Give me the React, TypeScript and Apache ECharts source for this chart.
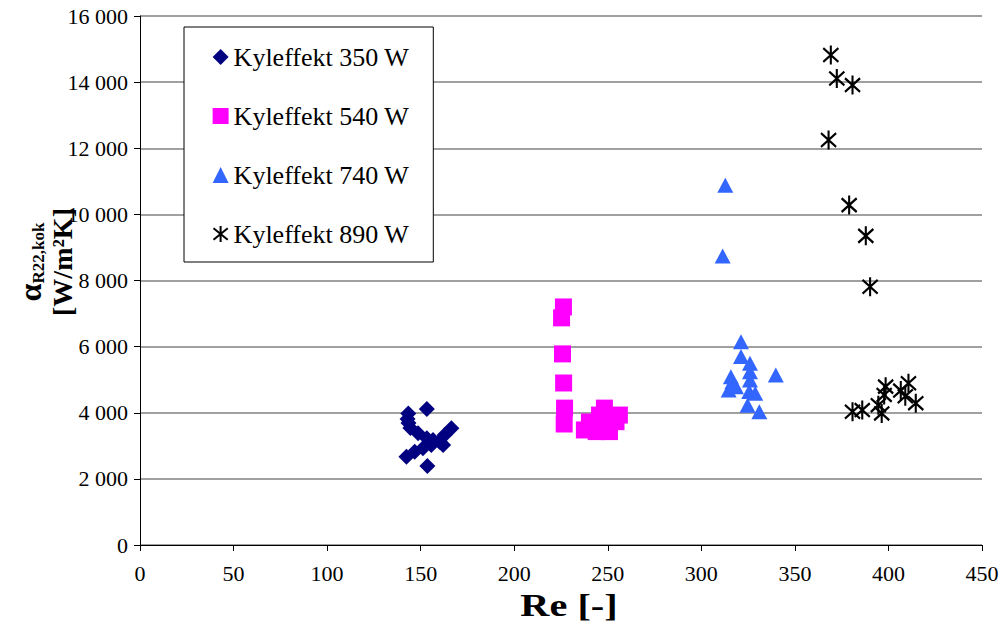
import React, { useEffect, useRef } from "react";
import * as echarts from "echarts";

const seriesNames = ["Kyleffekt 350 W", "Kyleffekt 540 W", "Kyleffekt 740 W", "Kyleffekt 890 W"];

const s350: number[][] = [
  [143.4, 3980], [143.0, 3810], [143.5, 3690], [144.5, 3540], [148.6, 3380],
  [153.3, 3225], [156.6, 3175], [166.4, 3530], [162.8, 3330], [160.1, 3125],
  [162.0, 3025], [155.7, 3025], [151.2, 2925], [146.8, 2820], [142.4, 2670],
  [153.3, 4110], [153.6, 2390],
];
const s540: number[][] = [
  [226.3, 7200], [225.3, 6870], [225.8, 5780], [226.4, 4900], [226.9, 4140],
  [226.7, 3660], [237.5, 3480], [240.2, 3720], [243.8, 3430], [248.2, 4140],
  [249.1, 3830], [250.9, 3430], [254.4, 3730], [256.2, 3930], [245.6, 3930],
  [242.0, 3570],
];
const s740: number[][] = [
  [312.8, 10880], [311.4, 8740], [321.2, 6150], [321.2, 5700], [326.0, 5500],
  [326.0, 5240], [315.8, 5090], [326.0, 4990], [339.8, 5140], [314.6, 4690],
  [318.5, 4790], [325.6, 4640], [328.8, 4590], [324.7, 4230], [331.0, 4030],
  [316.6, 4940],
];
const s890: number[][] = [
  [369.2, 14820], [372.4, 14110], [380.8, 13910], [368.0, 12250], [379.0, 10280],
  [387.9, 9350], [390.2, 7810], [380.8, 4030], [386.0, 4080], [394.6, 4230],
  [396.4, 3980], [397.7, 4540], [398.5, 4790], [406.6, 4670], [410.7, 4890],
  [414.6, 4290], [409.0, 4500],
];

const xMin = 0, xMax = 450, xStep = 50;
const yMin = 0, yMax = 16000, yStep = 2000;

const FONT = "Liberation Serif";
const STAR = "path://M8,0 L8,18 M0,2.5 L16,15.5 M0,15.5 L16,2.5";

function fmt(v: number): string {
  return String(v).replace(/\B(?=(\d{3})+(?!\d))/g, " ");
}

export default function App() {
  const ref = useRef<HTMLDivElement>(null);
  useEffect(() => {
    if (!ref.current) return;
    const chart = echarts.init(ref.current, null, { renderer: "svg" });
    const common = { type: "scatter" as const, z: 3, emphasis: { disabled: true } };
    chart.setOption({
      animation: false,
      backgroundColor: "#ffffff",
      textStyle: { fontFamily: FONT },
      grid: { left: 140, right: 19, top: 16, bottom: 80, containLabel: false, outerBoundsMode: "none" },
      legend: {
        orient: "vertical",
        left: 184,
        top: 27,
        padding: [17, 24, 15, 27],
        itemGap: 33,
        itemWidth: 16,
        itemHeight: 16,
        backgroundColor: "#ffffff",
        borderColor: "#000000",
        borderWidth: 1,
        borderRadius: 0,
        textStyle: { fontFamily: FONT, fontSize: 26, color: "#000", lineHeight: 26 },
        data: seriesNames,
        selectedMode: false,
      },
      xAxis: {
        type: "value",
        min: xMin,
        max: xMax,
        interval: xStep,
        axisLine: { lineStyle: { color: "#000", width: 1 } },
        axisTick: { show: true, length: 6, lineStyle: { color: "#000" } },
        axisLabel: {
          show: true,
          fontFamily: FONT, fontSize: 22, color: "#000", margin: 17,
          formatter: (v: number) => fmt(v),
        },
        splitLine: { show: false },
      },
      yAxis: {
        type: "value",
        min: yMin,
        max: yMax,
        interval: yStep,
        axisLine: { show: true, lineStyle: { color: "#000", width: 1 } },
        axisTick: { show: true, length: 6, lineStyle: { color: "#000" } },
        axisLabel: {
          show: true,
          fontFamily: FONT, fontSize: 22, color: "#000", margin: 12,
          formatter: (v: number) => fmt(v),
        },
        splitLine: { show: true, lineStyle: { color: "#808080", width: 1.5 } },
      },
      series: [
        { ...common, name: seriesNames[0], data: s350, symbol: "diamond", symbolSize: 16, itemStyle: { color: "#000080", opacity: 1 } },
        { ...common, name: seriesNames[1], data: s540, symbol: "rect", symbolSize: 17, itemStyle: { color: "#ff00ff", opacity: 1 } },
        { ...common, name: seriesNames[2], data: s740, symbol: "triangle", symbolSize: [16, 15], itemStyle: { color: "#3366ff", opacity: 1 } },
        {
          ...common,
          name: seriesNames[3],
          data: s890,
          symbol: STAR,
          symbolSize: [17, 19],
          symbolKeepAspect: true,
          itemStyle: { color: "none", borderColor: "#000000", borderWidth: 2.2, opacity: 1 },
        },
      ],
      graphic: [
        {
          type: "text",
          x: 569,
          y: 606,
          scaleX: 1.3,
          style: {
            text: "Re [-]",
            fontFamily: FONT,
            fontSize: 31,
            fontWeight: "bold",
            fill: "#000",
            align: "center",
            verticalAlign: "middle",
          },
        },
        {
          type: "text",
          x: 30,
          y: 262,
          rotation: Math.PI / 2,
          style: {
            text: "{a|α}{s|R22,kok}",
            align: "center",
            verticalAlign: "middle",
            fill: "#000",
            rich: {
              a: { fontFamily: FONT, fontSize: 32, fontWeight: "bold", fill: "#000", lineHeight: 34, verticalAlign: "middle" },
              s: { fontFamily: FONT, fontSize: 17, fontWeight: "bold", fill: "#000", lineHeight: 17, verticalAlign: "bottom" },
            },
          },
        },
        {
          type: "text",
          x: 62,
          y: 262,
          rotation: Math.PI / 2,
          style: {
            text: "[W/m²K]",
            fontFamily: FONT,
            fontSize: 28,
            fontWeight: "bold",
            fill: "#000",
            align: "center",
            verticalAlign: "middle",
          },
        },
      ],
    });
    return () => chart.dispose();
  }, []);
  return (
    <div
      ref={ref}
      style={{ position: "fixed", left: 0, top: 0, width: 1001, height: 625, background: "#fff" }}
    />
  );
}
